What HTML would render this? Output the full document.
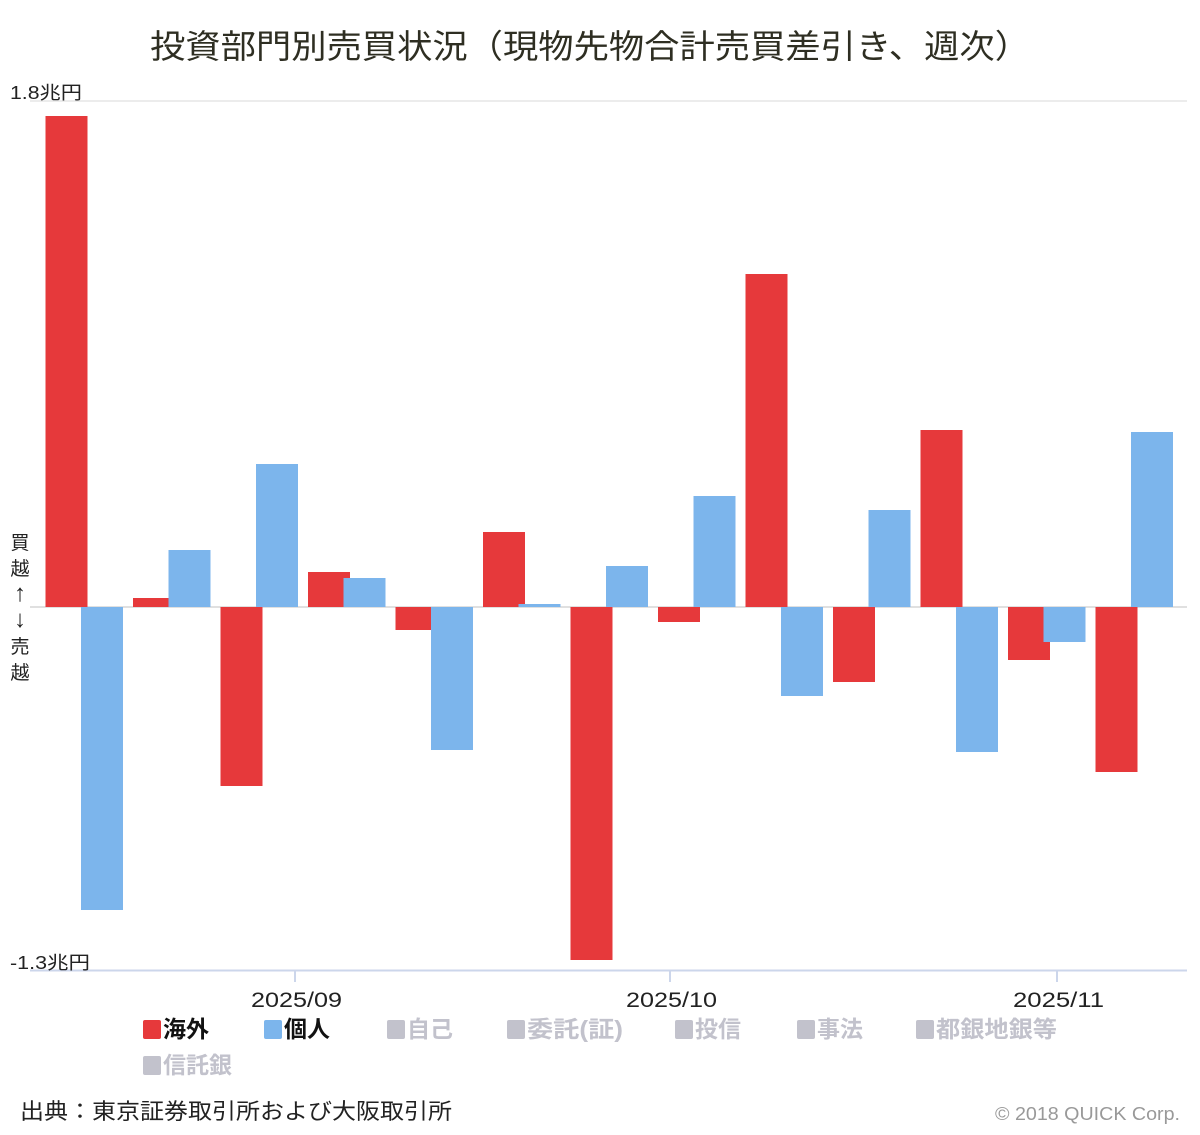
<!DOCTYPE html>
<html><head><meta charset="utf-8"><style>
body{margin:0;background:#fff;}
svg text{font-family:"Liberation Sans","Noto Sans CJK JP",sans-serif;}
</style></head><body>
<svg width="1200" height="1130" xmlns="http://www.w3.org/2000/svg">
<rect width="1200" height="1130" fill="#fff"/>
<text x="150" y="58" font-size="33" textLength="880" lengthAdjust="spacingAndGlyphs" fill="#2e2e22">投資部門別売買状況（現物先物合計売買差引き、週次）</text>
<line x1="30" y1="101" x2="1187" y2="101" stroke="#e6e6e6" stroke-width="1.5"/>
<line x1="30" y1="607" x2="1187" y2="607" stroke="#e0e0e0" stroke-width="2"/>
<line x1="30" y1="970.5" x2="1187" y2="970.5" stroke="#ccd6eb" stroke-width="2"/>
<g stroke="#ccd6eb" stroke-width="2"><line x1="295" y1="970" x2="295" y2="982"/><line x1="670" y1="970" x2="670" y2="982"/><line x1="1057" y1="970" x2="1057" y2="982"/></g>
<text x="10" y="99" font-size="18" textLength="72" lengthAdjust="spacingAndGlyphs" fill="#222">1.8兆円</text>
<text x="10" y="969" font-size="18" textLength="80" lengthAdjust="spacingAndGlyphs" fill="#222">-1.3兆円</text>
<g font-size="19" fill="#222" text-anchor="middle">
<text x="20" y="549">買</text><text x="20" y="575">越</text><text x="20" y="601" font-size="24">↑</text>
<text x="20" y="627" font-size="24">↓</text><text x="20" y="653">売</text><text x="20" y="679">越</text>
</g>
<g font-size="21" fill="#222">
<text x="251" y="1007" textLength="91" lengthAdjust="spacingAndGlyphs">2025/09</text>
<text x="626" y="1007" textLength="91" lengthAdjust="spacingAndGlyphs">2025/10</text>
<text x="1013" y="1007" textLength="91" lengthAdjust="spacingAndGlyphs">2025/11</text>
</g>
<g fill="#e6393b">
<rect x="45.5" y="116" width="42" height="491"/>
<rect x="133" y="598" width="42" height="9"/>
<rect x="220.5" y="607" width="42" height="179"/>
<rect x="308" y="572" width="42" height="35"/>
<rect x="395.5" y="607" width="42" height="23"/>
<rect x="483" y="532" width="42" height="75"/>
<rect x="570.5" y="607" width="42" height="353"/>
<rect x="658" y="607" width="42" height="15"/>
<rect x="745.5" y="274" width="42" height="333"/>
<rect x="833" y="607" width="42" height="75"/>
<rect x="920.5" y="430" width="42" height="177"/>
<rect x="1008" y="607" width="42" height="53"/>
<rect x="1095.5" y="607" width="42" height="165"/>
</g>
<g fill="#7cb5ec">
<rect x="81" y="607" width="42" height="303"/>
<rect x="168.5" y="550" width="42" height="57"/>
<rect x="256" y="464" width="42" height="143"/>
<rect x="343.5" y="578" width="42" height="29"/>
<rect x="431" y="607" width="42" height="143"/>
<rect x="518.5" y="604" width="42" height="3"/>
<rect x="606" y="566" width="42" height="41"/>
<rect x="693.5" y="496" width="42" height="111"/>
<rect x="781" y="607" width="42" height="89"/>
<rect x="868.5" y="510" width="42" height="97"/>
<rect x="956" y="607" width="42" height="145"/>
<rect x="1043.5" y="607" width="42" height="35"/>
<rect x="1131" y="432" width="42" height="175"/>
</g>
<g font-size="23" font-weight="bold">
<rect x="143" y="1020" width="18" height="19" rx="2" fill="#e6393b"/><text x="163" y="1037" fill="#111">海外</text>
<rect x="264" y="1020" width="18" height="19" rx="2" fill="#7cb5ec"/><text x="284" y="1037" fill="#111">個人</text>
<g fill="#c2c2cc">
<rect x="387" y="1020" width="18" height="19" rx="2"/><text x="407" y="1037">自己</text>
<rect x="507" y="1020" width="18" height="19" rx="2"/><text x="527" y="1037" textLength="96" lengthAdjust="spacingAndGlyphs">委託(証)</text>
<rect x="675" y="1020" width="18" height="19" rx="2"/><text x="695" y="1037">投信</text>
<rect x="797" y="1020" width="18" height="19" rx="2"/><text x="817" y="1037">事法</text>
<rect x="916" y="1020" width="18" height="19" rx="2"/><text x="936" y="1037" textLength="121" lengthAdjust="spacingAndGlyphs">都銀地銀等</text>
<rect x="143" y="1056" width="18" height="19" rx="2"/><text x="163" y="1073">信託銀</text>
</g></g>
<text x="20" y="1119" font-size="22" textLength="432" lengthAdjust="spacingAndGlyphs" fill="#222">出典：東京証券取引所および大阪取引所</text>
<text x="995" y="1120" font-size="18" textLength="185" lengthAdjust="spacingAndGlyphs" fill="#999">© 2018 QUICK Corp.</text>
</svg>
</body></html>
